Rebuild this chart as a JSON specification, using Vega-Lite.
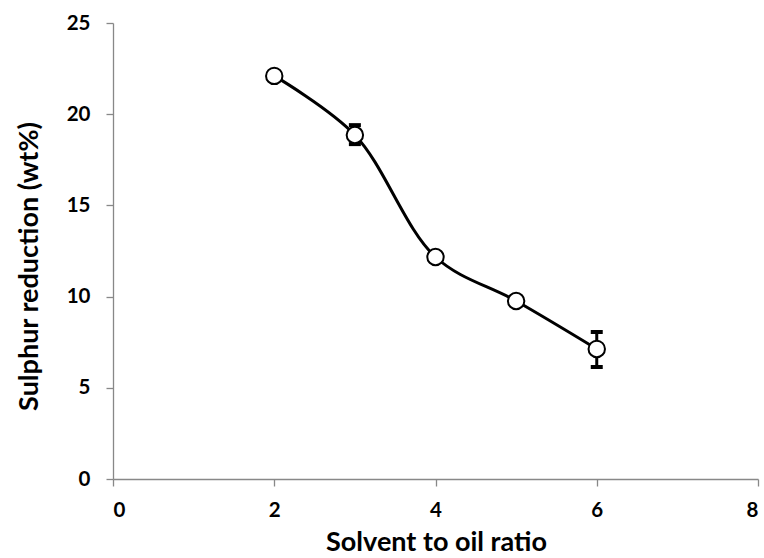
{
  "$schema": "https://vega.github.io/schema/vega-lite/v6.json",
  "width": 645,
  "height": 456,
  "autosize": {"type": "none"},
  "padding": {"left": 113, "top": 23, "right": 6, "bottom": 79},
  "background": "white",
  "config": {
    "view": {"stroke": null},
    "axis": {
      "grid": false,
      "domainColor": "#888888",
      "tickColor": "#888888",
      "domainWidth": 1.3,
      "tickWidth": 1.3,
      "tickSize": 7,
      "labelFont": "Lato",
      "labelFontWeight": "bold",
      "labelFontSize": 20.5,
      "labelColor": "#000000",
      "titleFont": "Lato",
      "titleFontWeight": "bold",
      "titleFontSize": 27,
      "titleColor": "#000000"
    }
  },
  "data": {
    "values": [
      {"ratio": 2, "reduction": 22.1, "lo": 22.1, "hi": 22.1},
      {"ratio": 3, "reduction": 18.86, "lo": 18.36, "hi": 19.4},
      {"ratio": 4, "reduction": 12.17, "lo": 12.17, "hi": 12.17},
      {"ratio": 5, "reduction": 9.76, "lo": 9.76, "hi": 9.76},
      {"ratio": 6, "reduction": 7.13, "lo": 6.14, "hi": 8.06}
    ]
  },
  "encoding": {
    "x": {
      "field": "ratio",
      "type": "quantitative",
      "scale": {"domain": [0, 8], "nice": false},
      "axis": {
        "values": [0, 2, 4, 6, 8],
        "title": "Solvent to oil ratio",
        "labelPadding": 14,
        "labelFlush": true,
        "titleX": 323,
        "titleY": 71,
        "titleAlign": "center",
        "titleBaseline": "alphabetic"
      }
    },
    "y": {
      "field": "reduction",
      "type": "quantitative",
      "scale": {"domain": [0, 25], "nice": false},
      "axis": {
        "values": [0, 5, 10, 15, 20, 25],
        "title": "Sulphur reduction (wt%)",
        "labelPadding": 16,
        "titleX": -84,
        "titleY": 243,
        "titleAngle": -90,
        "titleAlign": "center",
        "titleBaseline": "middle"
      }
    }
  },
  "layer": [
    {
      "mark": {"type": "line", "interpolate": "catmull-rom", "color": "#000000", "strokeWidth": 3}
    },
    {
      "transform": [{"filter": "datum.hi > datum.lo"}],
      "mark": {"type": "rule", "color": "#000000", "strokeWidth": 3},
      "encoding": {
        "y": {"field": "lo", "type": "quantitative"},
        "y2": {"field": "hi"}
      }
    },
    {
      "transform": [{"filter": "datum.hi > datum.lo"}],
      "mark": {"type": "tick", "color": "#000000", "size": 12, "thickness": 4, "orient": "horizontal", "opacity": 1},
      "encoding": {
        "y": {"field": "lo", "type": "quantitative"}
      }
    },
    {
      "transform": [{"filter": "datum.hi > datum.lo"}],
      "mark": {"type": "tick", "color": "#000000", "size": 12, "thickness": 4, "orient": "horizontal", "opacity": 1},
      "encoding": {
        "y": {"field": "hi", "type": "quantitative"}
      }
    },
    {
      "mark": {"type": "point", "shape": "circle", "filled": true, "fill": "#ffffff", "stroke": "#000000", "strokeWidth": 2, "size": 270, "opacity": 1}
    }
  ]
}
